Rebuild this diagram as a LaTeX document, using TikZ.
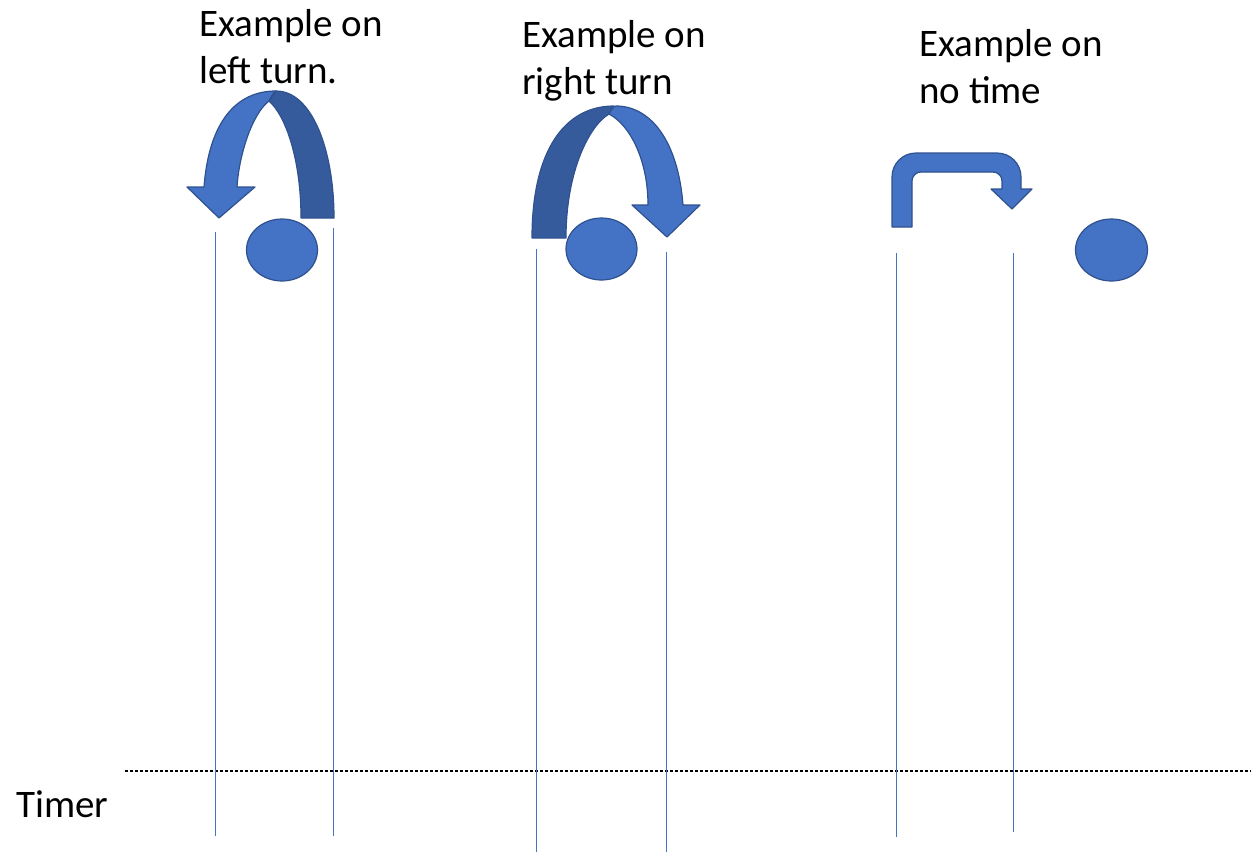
\documentclass[tikz,border=0pt]{standalone}
\usepackage{fontspec}
\setmainfont{Carlito}
\usetikzlibrary{shapes.geometric}
\definecolor{shapeblue}{HTML}{4472C4}
\definecolor{shapeedge}{HTML}{2F528F}
\definecolor{shapeback}{HTML}{365B9D}
\tikzset{
  label text/.style={anchor=base west, inner sep=0pt, font=\fontsize{39}{47}\selectfont},
  face/.style={fill=shapeblue, draw=shapeedge, line width=1.2pt, line join=round},
  backface/.style={fill=shapeback, draw=shapeedge, line width=1.2pt, line join=round},
  ball/.style={ellipse, fill=shapeblue, draw=shapeedge, line width=1.2pt, minimum width=71pt, minimum height=62pt, inner sep=0pt},
  marker/.style={draw=shapeblue, line width=1pt},
  timeline/.style={draw=black, line width=1.2pt, dash pattern=on 3pt off 2pt}
}
\begin{document}
\begin{tikzpicture}[x=1pt, y=-1pt]
\useasboundingbox (0,0) rectangle (1251,852);

% captions
\node[label text] (t1a) at (199,36.7) {Example on};
\node[label text] (t1b) at (199,83.3) {left turn.};
\node[label text] (t2a) at (522,47.3) {Example on};
\node[label text] (t2b) at (522,94) {right turn};
\node[label text] (t3a) at (919,56) {Example on};
\node[label text] (t3b) at (919,103.3) {no time};
\node[label text] (timer) at (16,817) {Timer};

% time axis
\coordinate (axL) at (125,771);
\coordinate (axR) at (1251,771);
\draw[timeline] (axL) -- (axR);

% marker lines
\coordinate (m1t) at (215.5,231.7); \coordinate (m1b) at (215.5,835.7);
\coordinate (m2t) at (333.5,228.3); \coordinate (m2b) at (333.5,835.7);
\coordinate (m3t) at (536.7,249.3); \coordinate (m3b) at (536.7,852);
\coordinate (m4t) at (666,252.3);   \coordinate (m4b) at (666,852);
\coordinate (m5t) at (896.5,253.3); \coordinate (m5b) at (896.5,836.7);
\coordinate (m6t) at (1013.7,253.3);\coordinate (m6b) at (1013.7,831.7);
\draw[marker] (m1t) -- (m1b);
\draw[marker] (m2t) -- (m2b);
\draw[marker] (m3t) -- (m3b);
\draw[marker] (m4t) -- (m4b);
\draw[marker] (m5t) -- (m5b);
\draw[marker] (m6t) -- (m6b);

% balls
\node[ball] (b1) at (282,250) {};
\node[ball] (b2) at (601.5,249) {};
\node[ball, minimum width=72pt] (b3) at (1111.5,250) {};

% left turn: back face, then front face with head
\path[backface] (276,91) .. controls (312,91) and (334,150) .. (334,218)
  -- (301,218) .. controls (301,160) and (286,116) .. (269,101) -- cycle;
\path[face] (187,187) -- (219,218) -- (255,187) -- (237,187)
  .. controls (239,155) and (252,114) .. (269,101)
  .. controls (271,97) and (273,93) .. (276,91)
  .. controls (236,91) and (209,122) .. (204,187) -- cycle;

% right turn: back face, then front face with head
\path[backface] (532,238) .. controls (532,150) and (565,106) .. (614,106)
  -- (609,114) .. controls (590,125) and (566,170) .. (566,238) -- cycle;
\path[face] (609,114) .. controls (611,110) and (613,107) .. (616,106)
  .. controls (650,106) and (678,140) .. (683,205)
  -- (700,205) -- (667,237) -- (632,205) -- (648,205)
  .. controls (648,160) and (630,125) .. (609,114) -- cycle;

% no time: bent arrow
\path[face] (892,227) -- (892,177) .. controls (892,163.7) and (902.7,153) .. (916,153)
  -- (997,153) .. controls (1010.3,153) and (1021,163.7) .. (1021,177)
  -- (1021,189) -- (1032,189) -- (1012,209) -- (991,189) -- (1002,189)
  -- (1002,181) .. controls (1002,176) and (998,172) .. (993,172)
  -- (921,172) .. controls (916,172) and (912,176) .. (912,181)
  -- (912,227) -- cycle;
\end{tikzpicture}
\end{document}
